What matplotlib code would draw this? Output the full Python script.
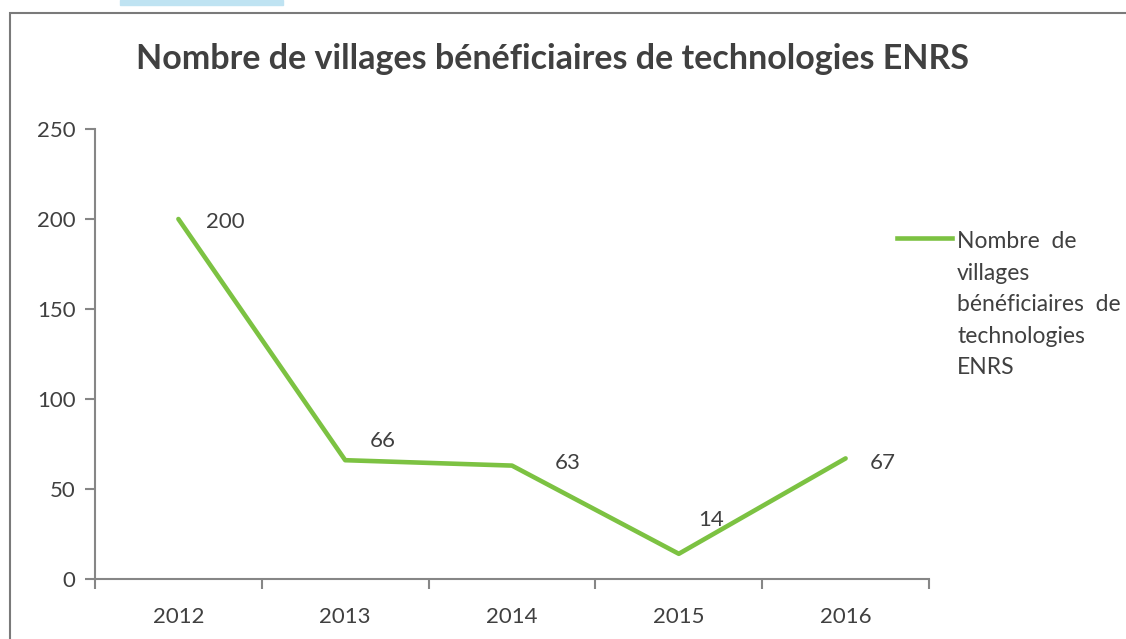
import matplotlib.pyplot as plt
from matplotlib.lines import Line2D
from matplotlib.patches import Rectangle

years = ['2012', '2013', '2014', '2015', '2016']
villages = [200, 66, 63, 14, 67]
label_offsets = [(34, -2), (27, 14), (40, 2), (23, 24), (27, -3)]

title = 'Nombre de villages bénéficiaires de technologies ENRS'
legend_label = 'Nombre  de\nvillages\nbénéficiaires  de\ntechnologies\nENRS'

green = '#7cc242'
text_col = '#404040'
axis_col = '#868686'

plt.rcParams['font.family'] = ['Lato', 'DejaVu Sans']

fig = plt.figure(figsize=(11.26, 6.39), dpi=100)
W, H = 1126, 639

# scanned frame and cut-off bits of the page
fig.patches.append(Rectangle((10 / W, -0.1), 1.2, 1 - 13 / H + 0.1,
                             transform=fig.transFigure, fill=False,
                             edgecolor='#7a7a7a', linewidth=1.5))
fig.patches.append(Rectangle((120 / W, 1 - 5 / H), 163 / W, 5 / H,
                             transform=fig.transFigure, color='#bfe3f2'))

ax = fig.add_axes([95 / W, 60 / H, 834 / W, 450 / H])
x = list(range(len(years)))
ax.plot(x, villages, color=green, linewidth=3.3, solid_capstyle='round')

for xi, v, off in zip(x, villages, label_offsets):
    ax.annotate(str(v), (xi, v), xytext=off, textcoords='offset points',
                ha='center', va='center', fontsize=16, color=text_col)

ax.set_xlim(-0.5, len(years) - 0.5)
ax.set_ylim(0, 250)
ax.set_yticks(range(0, 251, 50))
ax.set_xticks(x)
ax.set_xticklabels(years)
ax.set_xticks([i - 0.5 for i in range(len(years) + 1)], minor=True)
ax.tick_params(axis='x', which='major', length=0, pad=20,
               labelsize=16, labelcolor=text_col)
ax.tick_params(axis='x', which='minor', length=7, width=1.5, color=axis_col,
               direction='out')
ax.tick_params(axis='y', length=7, width=1.5, color=axis_col, pad=7,
               labelsize=16, labelcolor=text_col)

for s in ['top', 'right']:
    ax.spines[s].set_visible(False)
for s in ['left', 'bottom']:
    ax.spines[s].set_color(axis_col)
    ax.spines[s].set_linewidth(1.5)

fig.text(553 / W, 1 - 59 / H, title, ha='center', va='center',
         fontsize=24.5, fontweight='bold', color=text_col)

# legend on the right
fig.lines.append(Line2D([897 / W, 952 / W], [1 - 238 / H, 1 - 238 / H],
                        transform=fig.transFigure, color=green, linewidth=3.3))
fig.text(957 / W, 1 - 231 / H, legend_label, ha='left', va='top',
         fontsize=16.5, color=text_col, linespacing=1.62)

fig.savefig('out.png', dpi=100)
